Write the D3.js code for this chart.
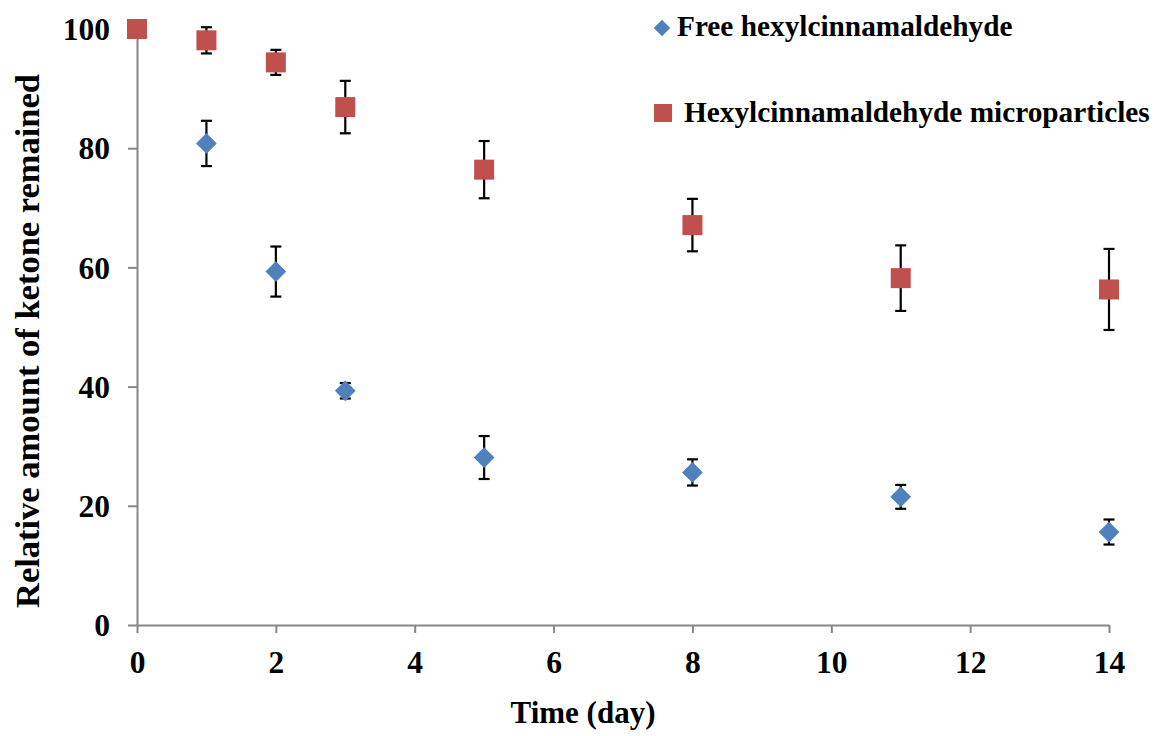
<!DOCTYPE html>
<html>
<head>
<meta charset="utf-8">
<script src="https://cdn.jsdelivr.net/npm/d3@7"></script>
<style>
  body { margin: 0; background: #fff; }
  svg text { font-family: "Liberation Serif", "Times New Roman", serif; font-weight: bold; fill: #000; }
</style>
</head>
<body>
<div id="chart"></div>
<script>
// data
const days = [0, 1, 2, 3, 5, 8, 11, 14];
const freeMean = [100, 80.8, 59.3, 39.3, 28.1, 25.6, 21.5, 15.6];
const freeErr = [0, 3.8, 4.2, 1.3, 3.6, 2.2, 2.0, 2.1];
const microMean = [100, 98.1, 94.4, 86.9, 76.4, 67.1, 58.2, 56.3];
const microErr = [0, 2.2, 2.1, 4.4, 4.8, 4.4, 5.5, 6.8];
const xTicks = [0, 2, 4, 6, 8, 10, 12, 14];
const yTicks = [0, 20, 40, 60, 80, 100];
const seriesNames = ["Free hexylcinnamaldehyde", "Hexylcinnamaldehyde microparticles"];

const width = 1155, height = 736;
const margin = { top: 29, right: 46, bottom: 111, left: 137 };

const svg = d3.select("#chart").append("svg")
    .attr("width", width)
    .attr("height", height);

const x = d3.scaleLinear().domain([0, 14]).range([margin.left, width - margin.right]);
const y = d3.scaleLinear().domain([0, 100]).range([height - margin.bottom, margin.top]);

// axes
const xAxis = svg.append("g")
    .attr("transform", `translate(0,${y(0)})`)
    .call(d3.axisBottom(x).tickValues(xTicks).tickSize(8).tickPadding(16).tickSizeOuter(0));
const yAxis = svg.append("g")
    .attr("transform", `translate(${x(0)},0)`)
    .call(d3.axisLeft(y).tickValues(yTicks).tickSize(9).tickPadding(18).tickSizeOuter(0));

[xAxis, yAxis].forEach(g => {
    g.select(".domain").attr("stroke", "#878787").attr("stroke-width", 2);
    g.selectAll(".tick line").attr("stroke", "#878787").attr("stroke-width", 2);
    g.selectAll(".tick text").style("font-size", "31.5px").attr("fill", "#000");
});
yAxis.selectAll(".tick text").attr("dy", "0.34em");
xAxis.selectAll(".tick text").attr("dy", "0.77em");

// axis titles
svg.append("text")
    .attr("x", 583)
    .attr("y", 723)
    .attr("text-anchor", "middle")
    .style("font-size", "31px")
    .text("Time (day)");

svg.append("text")
    .attr("transform", "translate(39,341) rotate(-90)")
    .attr("text-anchor", "middle")
    .style("font-size", "34.5px")
    .text("Relative amount of ketone remained");

const free = days.map((d, i) => ({ day: d, v: freeMean[i], e: freeErr[i] }));
const micro = days.map((d, i) => ({ day: d, v: microMean[i], e: microErr[i] }));

// error bars (behind the markers)
function errorBars(data) {
    const g = svg.append("g").attr("stroke", "#000").attr("stroke-width", 2.2);
    const items = g.selectAll("g").data(data.filter(d => d.e > 0)).join("g");
    items.append("line")
        .attr("x1", d => x(d.day)).attr("x2", d => x(d.day))
        .attr("y1", d => y(d.v + d.e)).attr("y2", d => y(d.v - d.e));
    items.append("line")
        .attr("x1", d => x(d.day) - 5.5).attr("x2", d => x(d.day) + 5.5)
        .attr("y1", d => y(d.v + d.e)).attr("y2", d => y(d.v + d.e));
    items.append("line")
        .attr("x1", d => x(d.day) - 5.5).attr("x2", d => x(d.day) + 5.5)
        .attr("y1", d => y(d.v - d.e)).attr("y2", d => y(d.v - d.e));
}
errorBars(free);
errorBars(micro);

const diamond = d3.symbol().type(d3.symbolSquare).size(215);

svg.append("g").selectAll("path")
    .data(free)
    .join("path")
    .attr("d", diamond)
    .attr("transform", d => `translate(${x(d.day)},${y(d.v)}) rotate(45)`)
    .attr("fill", "#4f81bd");

svg.append("g").selectAll("rect")
    .data(micro)
    .join("rect")
    .attr("x", d => x(d.day) - 10)
    .attr("y", d => y(d.v) - 10)
    .attr("width", 20)
    .attr("height", 20)
    .attr("fill", "#c0504d");

// legend
const legend = svg.append("g");
legend.append("path")
    .attr("d", d3.symbol().type(d3.symbolSquare).size(135))
    .attr("transform", "translate(662,28) rotate(45)")
    .attr("fill", "#4f81bd");
legend.append("text")
    .attr("x", 677).attr("y", 36)
    .style("font-size", "29.3px")
    .text(seriesNames[0]);
legend.append("rect")
    .attr("x", 654).attr("y", 104)
    .attr("width", 18).attr("height", 18)
    .attr("fill", "#c0504d");
legend.append("text")
    .attr("x", 684).attr("y", 122)
    .style("font-size", "29.3px")
    .text(seriesNames[1]);
</script>
</body>
</html>
